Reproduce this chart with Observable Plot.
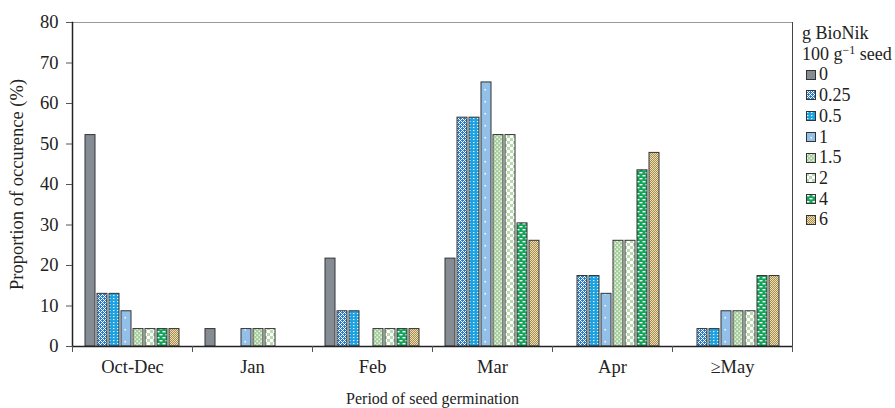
<!DOCTYPE html>
<html><head><meta charset="utf-8">
<script src="https://cdn.jsdelivr.net/npm/d3@7"></script>
<script src="https://cdn.jsdelivr.net/npm/@observablehq/plot@0.6"></script>
<style>
body{margin:0;background:#fff;font-family:"Liberation Serif","Times New Roman",serif;}
#wrap{position:relative;width:895px;height:408px;}
#legend{position:absolute;left:802px;top:23px;font-size:18px;color:#222;line-height:20.7px;white-space:nowrap;}
#legend .item{display:flex;align-items:center;}
#legend svg{margin-left:4px;margin-right:3px;}
</style></head><body>
<svg width="0" height="0" style="position:absolute">
<defs>
  <pattern id="pat0" patternUnits="userSpaceOnUse" width="4" height="4"><rect width="4" height="4" fill="#868c93"/></pattern>
  <pattern id="pat1" patternUnits="userSpaceOnUse" width="4" height="4">
    <rect width="4" height="4" fill="#2a7ec6"/>
    <rect x="0" y="0" width="1" height="1" fill="#fff"/>
    <rect x="1" y="1" width="1" height="1" fill="#fff"/>
    <rect x="2" y="2" width="1" height="1" fill="#fff"/>
    <rect x="3" y="3" width="1" height="1" fill="#fff"/>
    <rect x="1" y="3" width="1" height="1" fill="#fff"/>
    <rect x="3" y="1" width="1" height="1" fill="#fff"/>
  </pattern>
  <pattern id="pat2" patternUnits="userSpaceOnUse" width="4" height="3">
    <rect width="4" height="3" fill="#1aa2e2"/>
    <rect x="1" y="1" width="1.4" height="1.1" fill="#fff"/>
  </pattern>
  <pattern id="pat3" patternUnits="userSpaceOnUse" width="12" height="12">
    <rect width="12" height="12" fill="#93c0e9"/>
    <rect x="4.5" y="5" width="1.5" height="1.5" fill="#fff"/>
  </pattern>
  <pattern id="pat4" patternUnits="userSpaceOnUse" width="4" height="4">
    <rect width="4" height="4" fill="#a6cf9d"/>
    <rect x="0.5" y="0.5" width="1.5" height="1.5" fill="#fff" opacity="0.85"/>
    <rect x="2.5" y="2.5" width="1.5" height="1.5" fill="#e6f2e2"/>
  </pattern>
  <pattern id="pat5" patternUnits="userSpaceOnUse" width="6" height="6">
    <rect width="6" height="6" fill="#fff"/>
    <rect x="0" y="0" width="3" height="3" fill="#b9dbaf"/>
    <rect x="3" y="3" width="3" height="3" fill="#b9dbaf"/>
  </pattern>
  <pattern id="pat6" patternUnits="userSpaceOnUse" width="6" height="6">
    <rect width="6" height="6" fill="#12a458"/>
    <rect x="0.5" y="1" width="3" height="1.4" fill="#fff"/>
    <rect x="3.5" y="4" width="3" height="1.4" fill="#fff"/>
    <rect x="-2.5" y="4" width="3" height="1.4" fill="#fff"/>
  </pattern>
  <pattern id="pat7" patternUnits="userSpaceOnUse" width="2" height="2">
    <rect width="2" height="2" fill="#a88d4c"/>
    <rect x="0" y="0" width="1" height="1" fill="#eadfb6"/>
    <rect x="1" y="1" width="1" height="1" fill="#eadfb6"/>
  </pattern>
</defs>
</svg>
<div id="wrap"><div id="chart"></div><div id="legend"></div></div>
<script>
const periods = ["Oct-Dec", "Jan", "Feb", "Mar", "Apr", "≥May"];
const doses = ["0", "0.25", "0.5", "1", "1.5", "2", "4", "6"];
const dose0    = [52.2, 4.3, 21.7, 21.7, 0, 0];
const dose025  = [13.0, 0, 8.7, 56.5, 17.4, 4.3];
const dose05   = [13.0, 0, 8.7, 56.5, 17.4, 4.3];
const dose1    = [8.7, 4.3, 0, 65.2, 13.0, 8.7];
const dose15   = [4.3, 4.3, 4.3, 52.2, 26.1, 8.7];
const dose2    = [4.3, 4.3, 4.3, 52.2, 26.1, 8.7];
const dose4    = [4.3, 0, 4.3, 30.4, 43.5, 17.4];
const dose6    = [4.3, 0, 4.3, 26.1, 47.8, 17.4];
const yTicks = [0, 10, 20, 30, 40, 50, 60, 70, 80];

const series = [dose0, dose025, dose05, dose1, dose15, dose2, dose4, dose6];
const data = [];
series.forEach((vals, i) => vals.forEach((v, j) => {
  if (v > 0) data.push({period: periods[j], dose: doses[i], value: v});
}));

const W = 895, H = 408, mL = 72, mR = 103, mT = 22, mB = 62;
const half = (W - mL - mR) / periods.length / 2;

const chart = Plot.plot({
  width: W, height: H,
  marginLeft: mL, marginRight: mR, marginTop: mT, marginBottom: mB,
  style: {fontFamily: '"Liberation Serif", "Times New Roman", serif', fontSize: "18px", color: "#222", background: "#fff", overflow: "visible"},
  fx: {domain: periods, padding: 0},
  x: {domain: doses, paddingInner: 0.19, paddingOuter: 0.94, axis: null},
  y: {domain: [0, 80]},
  color: {domain: doses, range: doses.map((d, i) => `url(#pat${i})`)},
  marks: [
    Plot.barY(data, {fx: "period", x: "dose", y: "value", fill: "dose", stroke: "#333", strokeWidth: 1}),
    Plot.ruleY([80], {stroke: "#999", strokeWidth: 1}),
    Plot.ruleY([0], {stroke: "#222", strokeWidth: 1.5}),
    Plot.frame({anchor: "left", facetAnchor: "left", stroke: "#222", strokeWidth: 1.5}),
    Plot.frame({anchor: "right", facetAnchor: "right", stroke: "#444", strokeWidth: 1}),
    Plot.axisY({ticks: yTicks, tickSize: 6, tickPadding: 8, fontSize: 18.5, stroke: "#555", label: null}),
    Plot.axisY({ticks: [], tickSize: 0, fontSize: 18.5,
      label: "Proportion of occurence (%)", labelAnchor: "center", labelArrow: "none", labelOffset: 63}),
    Plot.axisFx({anchor: "bottom", tickSize: 0, tickPadding: 13, fontSize: 18.5, label: null}),
    Plot.axisFx({anchor: "bottom", tickSize: 0, text: null, fontSize: 16,
      label: "Period of seed germination", labelAnchor: "center", labelArrow: "none", labelOffset: 57}),
    Plot.axisFx({anchor: "bottom", tickSize: 6, text: null, dx: -half, label: null, stroke: "#555"}),
    Plot.axisFx({anchor: "bottom", tickSize: 6, text: null, dx: half, label: null, stroke: "#555"})
  ]
});
document.getElementById("chart").appendChild(chart);

const legend = document.getElementById("legend");
legend.innerHTML = `<div>g BioNik</div><div>100 g<sup style="font-size:12px;vertical-align:6px;line-height:0">−1</sup> seed</div>` +
  doses.map((d, i) => `<div class="item"><svg width="10" height="10"><rect x="0.5" y="0.5" width="9" height="9" fill="url(#pat${i})" stroke="#333" stroke-width="1"/></svg>${d}</div>`).join("");
</script>
</body></html>
